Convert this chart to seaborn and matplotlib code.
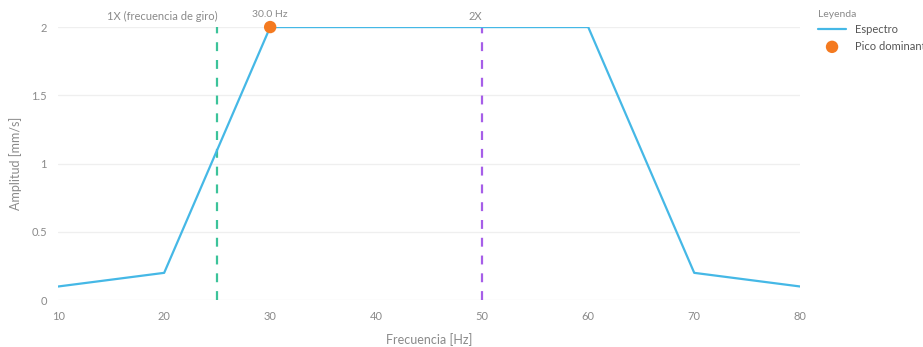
import matplotlib
matplotlib.use("Agg")
import matplotlib.pyplot as plt
import seaborn as sns
import pandas as pd

# espectro de vibracion
freq = [10, 20, 30, 60, 70, 80]
amp = [0.1, 0.2, 2.0, 2.0, 0.2, 0.1]
peak_freq = 30
peak_amp = 2.0
rot_freq = 25  # 1X
harm_freq = 50  # 2X
xticks = [10, 20, 30, 40, 50, 60, 70, 80]
yticks = [0, 0.5, 1, 1.5, 2]
ytick_labels = ["0", "0.5", "1", "1.5", "2"]

sns.set_theme(style="white")
plt.rcParams['font.family'] = ['Lato', 'DejaVu Sans']

df = pd.DataFrame({"Frecuencia": freq, "Amplitud": amp})

fig = plt.figure(figsize=(9.23, 3.47), dpi=100)
ax = fig.add_axes([0.063, 0.135, 0.804, 0.787])

txt = "#8a8a8a"
ax.axvline(rot_freq, color="#3cc39a", linestyle=(0, (4, 4)), lw=1.6, zorder=1)
ax.axvline(harm_freq, color="#a65ee8", linestyle=(0, (4, 4)), lw=1.6, zorder=1)

sns.lineplot(data=df, x="Frecuencia", y="Amplitud", ax=ax, color="#45b8e6",
             lw=1.6, label="Espectro", zorder=3)
sns.scatterplot(x=[peak_freq], y=[peak_amp], ax=ax, color="#f47a20", s=80,
                edgecolor="none", label="Pico dominante", zorder=4, clip_on=False)

ax.text(rot_freq, 2.04, "1X (frecuencia de giro)", ha="right", va="bottom",
        fontsize=8, color=txt)
ax.text(harm_freq, 2.04, "2X", ha="right", va="bottom", fontsize=8, color=txt)
ax.text(peak_freq, 2.06, "%.1f Hz" % peak_freq, ha="center", va="bottom",
        fontsize=7.5, color=txt)

ax.set_xlim(10, 80)
ax.set_ylim(0, 2)
ax.set_xticks(xticks)
ax.set_yticks(yticks)
ax.set_yticklabels(ytick_labels)
ax.tick_params(axis="both", length=0, labelsize=8, colors=txt, pad=8)
ax.grid(axis="y", color="#efefef", lw=0.9)
ax.set_axisbelow(True)
for s in ax.spines.values():
    s.set_visible(False)
ax.set_xlabel("Frecuencia [Hz]", fontsize=9, color=txt, labelpad=8)
ax.set_ylabel("Amplitud [mm/s]", fontsize=9, color=txt, labelpad=7)

h, l = ax.get_legend_handles_labels()
ax.get_legend().remove()
leg = fig.legend(h, l, title="Leyenda", loc="upper left",
                 bbox_to_anchor=(0.881, 0.985), frameon=False, fontsize=8,
                 title_fontsize=7.5, handlelength=2.6, labelspacing=0.5,
                 borderaxespad=0)
leg._legend_box.align = "left"
for t in leg.get_texts():
    t.set_color("#555555")
leg.get_title().set_color(txt)

fig.savefig("out.png", dpi=100)
